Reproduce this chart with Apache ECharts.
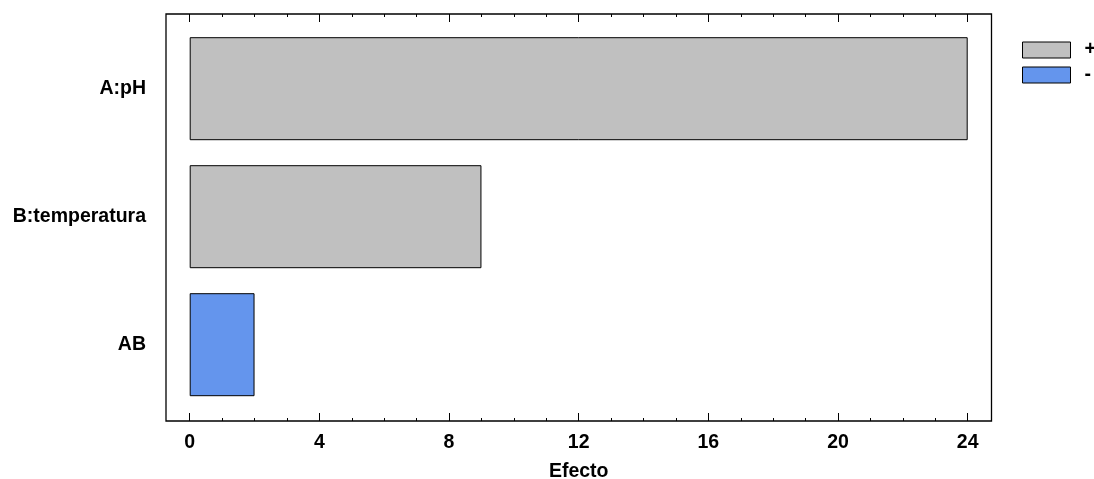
<!DOCTYPE html>
<html>
<head>
<meta charset="utf-8">
<script src="https://cdn.jsdelivr.net/npm/echarts@6/dist/echarts.min.js"></script>
<style>html,body{margin:0;padding:0;background:#fff}#c{width:1094px;height:479px}</style>
</head>
<body>
<div id="c"></div>
<script>
const categories = ['A:pH', 'B:temperatura', 'AB'];
const effects = [24.0, 9.0, 2.0];
const signs = ['+', '+', '-'];
const xTicks = [0, 4, 8, 12, 16, 20, 24];

const posData = effects.map((v, i) => signs[i] === '+' ? v : null);
const negData = effects.map((v, i) => signs[i] === '-' ? v : null);

const font = 'Liberation Sans, Arial, sans-serif';
const fs = 19.5;
const chart = echarts.init(document.getElementById('c'));
chart.setOption({
  animation: false,
  backgroundColor: '#fff',
  grid: [
    {left: 166, right: 102.5, top: 14, bottom: 58, show: true, borderColor: '#000', borderWidth: 1.3, backgroundColor: 'transparent', outerBoundsMode: 'none', containLabel: false},
    {left: 189.7, right: 126.3, top: 24.7, height: 384, outerBoundsMode: 'none', containLabel: false},
    {left: 189.7, right: 126.3, top: 14, bottom: 58, outerBoundsMode: 'none', containLabel: false}
  ],
  legend: {
    data: ['+', '-'],
    orient: 'vertical',
    left: 1017, top: 35,
    itemWidth: 48, itemHeight: 16, itemGap: 5,
    icon: 'rect',
    itemStyle: {borderWidth: 1, borderColor: '#000'},
    textStyle: {fontFamily: font, fontWeight: 'bold', fontSize: fs, color: '#000', padding: [0, 0, 0, 9]}
  },
  xAxis: [
    {gridIndex: 0, type: 'value', min: 0, max: 1, show: false},
    {gridIndex: 1, type: 'value', min: xTicks[0], max: xTicks[xTicks.length - 1], interval: 4, show: false},
    {gridIndex: 2, type: 'value', position: 'bottom', min: xTicks[0], max: xTicks[xTicks.length - 1], interval: 4,
      axisLine: {show: false},
      axisTick: {show: true, inside: true, length: 8, lineStyle: {color: '#000', width: 1}},
      minorTick: {show: true, splitNumber: 4, length: 3, lineStyle: {color: '#000', width: 1}},
      splitLine: {show: false},
      axisLabel: {margin: 11.5, fontFamily: font, fontWeight: 'bold', fontSize: fs, color: '#000'},
      name: 'Efecto', nameLocation: 'middle', nameGap: 40.5,
      nameMoveOverlap: false,
      nameTextStyle: {fontFamily: font, fontWeight: 'bold', fontSize: fs, color: '#000'}
    },
    {gridIndex: 2, type: 'value', position: 'top', min: xTicks[0], max: xTicks[xTicks.length - 1], interval: 4,
      axisLine: {show: false},
      axisTick: {show: true, inside: true, length: 8, lineStyle: {color: '#000', width: 1}},
      minorTick: {show: true, splitNumber: 4, length: 3, lineStyle: {color: '#000', width: 1}},
      splitLine: {show: false},
      axisLabel: {show: false}
    }
  ],
  yAxis: [
    {gridIndex: 0, type: 'value', min: 0, max: 1, show: false},
    {gridIndex: 1, type: 'category', data: categories, inverse: true,
      axisLine: {show: false}, axisTick: {show: false},
      axisLabel: {margin: 43.7, fontFamily: font, fontWeight: 'bold', fontSize: fs, color: '#000'}
    },
    {gridIndex: 2, type: 'value', min: 0, max: 1, show: false}
  ],
  series: [
    {name: '+', type: 'bar', xAxisIndex: 1, yAxisIndex: 1, data: posData, barWidth: 103, barGap: '-100%',
      itemStyle: {color: '#c0c0c0', borderColor: '#000', borderWidth: 1}},
    {name: '-', type: 'bar', xAxisIndex: 1, yAxisIndex: 1, data: negData, barWidth: 103, barGap: '-100%',
      itemStyle: {color: '#6495ed', borderColor: '#000', borderWidth: 1}}
  ]
});
</script>
</body>
</html>
